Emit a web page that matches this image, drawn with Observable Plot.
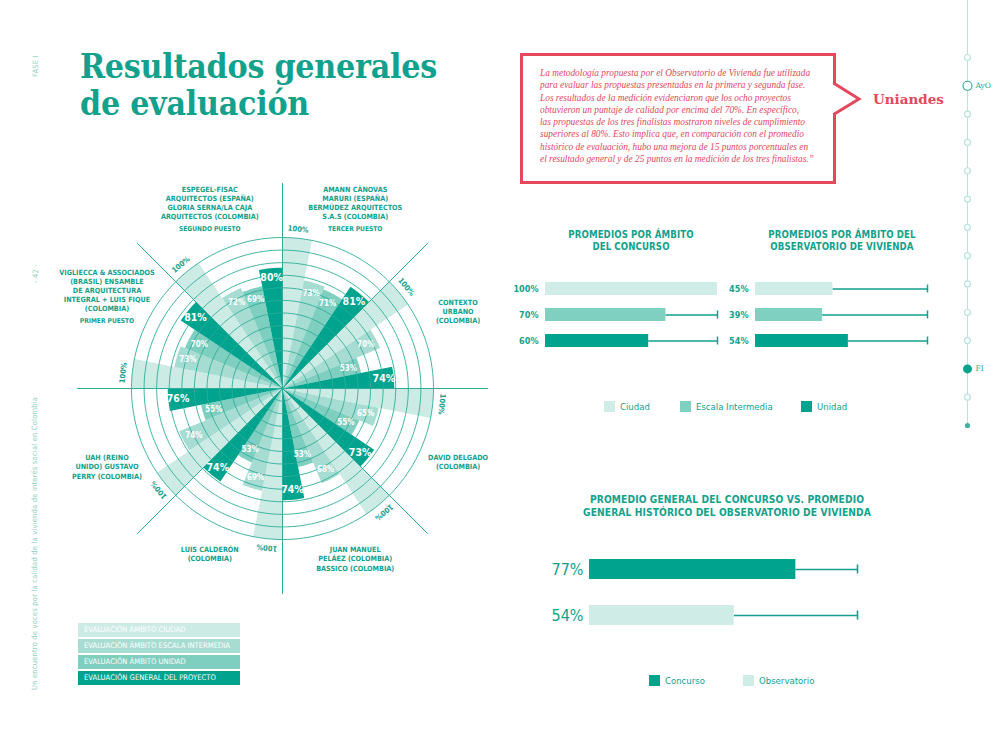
<!DOCTYPE html>
<html><head><meta charset="utf-8">
<script src="https://cdn.jsdelivr.net/npm/d3@7"></script>
<script src="https://cdn.jsdelivr.net/npm/@observablehq/plot@0.6"></script>
<style>
body{margin:0;background:#fff;}
#page{position:relative;width:1008px;height:735px;overflow:hidden;background:#fff;
  font-family:"Liberation Sans Narrow","DejaVu Sans Condensed","Roboto",sans-serif;color:#12a18c;}
#page > *{position:absolute;}
.side{color:#8fd0c4;font-size:7.5px;white-space:nowrap;transform:rotate(-90deg);transform-origin:0 0;letter-spacing:0.2px;}
.ctitle{font-weight:bold;font-size:9.6px;text-align:center;line-height:12px;white-space:nowrap;letter-spacing:0.1px;}
.leg{font-size:9.5px;white-space:nowrap;line-height:11px;display:flex;align-items:center;}
.sw{display:inline-block;width:11px;height:11px;margin-right:5px;}
.rleg{width:162px;height:14px;line-height:14px;color:#fff;font-size:7.6px;padding-left:6px;box-sizing:border-box;white-space:nowrap;overflow:hidden;}
</style></head>
<body><div id="page"></div>
<script>
// ---------------- DATA ----------------
const projects = [
  "AMANN CÀNOVAS\nMARURI (ESPAÑA)\nBERMÚDEZ ARQUITECTOS\nS.A.S (COLOMBIA)",
  "CONTEXTO\nURBANO\n(COLOMBIA)",
  "DAVID DELGADO\n(COLOMBIA)",
  "JUAN MANUEL\nPELÁEZ (COLOMBIA)\nBASSICO (COLOMBIA)",
  "LUIS CALDERÓN\n(COLOMBIA)",
  "UAH (REINO\nUNIDO) GUSTAVO\nPERRY (COLOMBIA)",
  "VIGLIECCA & ASSOCIADOS\n(BRASIL) ENSAMBLE\nDE ARQUITECTURA\nINTEGRAL + LUIS FIQUE\n(COLOMBIA)",
  "ESPEGEL-FISAC\nARQUITECTOS (ESPAÑA)\nGLORIA SERNA/LA CAJA\nARQUITECTOS (COLOMBIA)"
];
const puestos = ["TERCER PUESTO", "", "", "", "", "", "PRIMER PUESTO", "SEGUNDO PUESTO"];
const evalCiudad  = [100, 100, 100, 100, 100, 100, 100, 100];
const evalEscala  = [73, 70, 65, 68, 69, 74, 73, 72];
const evalUnidad  = [71, 53, 55, 53, 53, 55, 70, 69];
const evalGeneral = [81, 74, 73, 74, 74, 76, 81, 80];
const evalKinds = ["EVALUACIÓN ÁMBITO CIUDAD", "EVALUACIÓN ÁMBITO ESCALA INTERMEDIA",
                   "EVALUACIÓN ÁMBITO UNIDAD", "EVALUACIÓN GENERAL DEL PROYECTO"];
const ringCount = 12;

const ambitos = ["Ciudad", "Escala Intermedia", "Unidad"];
const concursoAmbito = [100, 70, 60];
const observatorioAmbito = [45, 39, 54];
const generalSeries = ["Concurso", "Observatorio"];
const generalValues = [77, 54];

const timelineNodes = [0,1,2,3,4,5,6,7,8,9,10,11,12,13];
const timelineLabels = ["", "AyO", "", "", "", "", "", "", "", "", "", "FI", "", ""];

const quoteLines = [
  "La metodología propuesta por el Observatorio de Vivienda fue utilizada",
  "para evaluar las propuestas presentadas en la primera y segunda fase.",
  "Los resultados de la medición evidenciaron que los ocho proyectos",
  "obtuvieron un puntaje de calidad por encima del 70%. En específico,",
  "las propuestas de los tres finalistas mostraron niveles de cumplimiento",
  "superiores al 80%. Esto implica que, en comparación con el promedio",
  "histórico de evaluación, hubo una mejora de 15 puntos porcentuales en",
  "el resultado general y de 25 puntos en la medición de los tres finalistas.”"
];

// ---------------- STYLE ----------------
const teal = "#12a18c";
const wedgeColors = ["#cdebe5", "#a7dcd2", "#7ecfc0", "#00a48e"];
const ambitoColors = ["#d0ece6", "#80d0c1", "#00a48e"];
const generalColors = ["#00a48e", "#d0ece6"];
const red = "#e3485c";
const FONT = '"Liberation Sans Narrow","DejaVu Sans Condensed",sans-serif';

const page = document.getElementById("page");
function add(html, left, top, cls, extra) {
  const d = document.createElement("div");
  if (cls) d.className = cls;
  d.innerHTML = html;
  d.style.left = left + "px"; d.style.top = top + "px";
  if (extra) Object.assign(d.style, extra);
  page.appendChild(d);
  return d;
}

// ---------------- TITLE ----------------
const title = add('<div id="t1" style="display:inline-block">Resultados generales</div><br><div style="display:inline-block">de evaluación</div>',
  80, 48, "", {fontFamily:'"DejaVu Serif",serif', fontWeight:"bold", fontSize:"34px", lineHeight:"37px",
  color:teal, whiteSpace:"nowrap", transformOrigin:"0 0", letterSpacing:"-0.3px"});

// side texts
add("FASE I", 31, 77, "side");
add("- 42 -", 31, 283, "side");
add("Un encuentro de voces por la calidad de la vivienda de interés social en Colombia", 30, 690, "side");

// ---------------- RADIAL CHART ----------------
const PX = 1.51;              // pixels per percentage point
const RW = 445, RH = 425, CX = 232, CY = 218;
const deg = Math.PI / 180;
const pol = (r, a) => [r * Math.sin(a * deg), r * Math.cos(a * deg)];
const series = [evalCiudad, evalEscala, evalUnidad, evalGeneral];

const wedgePts = [[], [], [], []];
const outerLabels = [], innerSmall = [], innerBig = [];
projects.forEach((p, i) => {
  series.forEach((arr, j) => {
    const v = arr[i];
    const a0 = 45 * i + 11.25 * j, a1 = a0 + 11.25, am = (a0 + a1) / 2;
    const id = i + "-" + j;
    wedgePts[j].push({id, x: 0, y: 0});
    for (let k = 0; k <= 8; k++) {
      const [x, y] = pol(v, a0 + (a1 - a0) * k / 8);
      wedgePts[j].push({id, x, y});
    }
    if (j === 0) {
      const [x, y] = pol(v + 6, am);
      outerLabels.push({x, y, t: v + "%", rot: am});
    } else if (j === 3) {
      const [x, y] = pol(v - 6.5, am);
      innerBig.push({x, y, t: v + "%"});
    } else {
      const [x, y] = pol(v - 7.5, am);
      innerSmall.push({x, y, t: v + "%"});
    }
  });
});
const ringPts = [];
for (let k = 1; k <= ringCount; k++) {
  const r = 100 * k / ringCount;
  for (let a = 0; a <= 360; a += 2) { const [x, y] = pol(r, a); ringPts.push({k, x, y}); }
}
const axisLines = [0, 45, 90, 135].map(a => {
  const [x2, y2] = pol(136, a), [x1, y1] = pol(-136, a);
  return {x1, y1, x2, y2};
});
// label ring: slightly elliptical so that blocks clear the chart
const LRX = 190 / PX, LRY = 170 / PX;
const nameUpper = [], nameLower = [], puestoData = [];
projects.forEach((name, i) => {
  const a = 45 * i + 22.5;
  const x = LRX * Math.sin(a * deg), y = LRY * Math.cos(a * deg);
  if (y > 0) {
    const shift = puestos[i] ? 12 / PX : 0;
    nameUpper.push({x, y: y + shift, name});
    if (puestos[i]) puestoData.push({x, y, t: puestos[i]});
  } else {
    nameLower.push({x, y, name});
  }
});

const radial = Plot.plot({
  width: RW, height: RH, margin: 0,
  x: {domain: [-CX / PX, (RW - CX) / PX], axis: null},
  y: {domain: [-(RH - CY) / PX, CY / PX], axis: null},
  style: {background: "transparent", fontFamily: FONT, overflow: "hidden"},
  marks: [
    ...wedgePts.map((pts, j) => Plot.line(pts, {x: "x", y: "y", z: "id", fill: wedgeColors[j], stroke: "none", curve: "linear"})),
    Plot.line(ringPts, {x: "x", y: "y", z: "k", stroke: "#2cad99", strokeWidth: 0.9}),
    Plot.link(axisLines, {x1: "x1", y1: "y1", x2: "x2", y2: "y2", stroke: "#2cad99", strokeWidth: 1}),
    Plot.text(outerLabels, {x: "x", y: "y", text: "t", rotate: "rot", fill: teal, fontSize: 7.5, fontWeight: "bold"}),
    Plot.text(innerSmall, {x: "x", y: "y", text: "t", fill: "#ffffff", fontSize: 8, fontWeight: "bold"}),
    Plot.text(innerBig, {x: "x", y: "y", text: "t", fill: "#ffffff", fontSize: 10.5, fontWeight: "bold"}),
    Plot.text(nameUpper, {x: "x", y: "y", text: "name", fill: teal, fontSize: 7.2, fontWeight: "bold", lineAnchor: "bottom", lineHeight: 1.28}),
    Plot.text(nameLower, {x: "x", y: "y", text: "name", fill: teal, fontSize: 7.2, fontWeight: "bold", lineAnchor: "top", lineHeight: 1.28}),
    Plot.text(puestoData, {x: "x", y: "y", text: "t", fill: teal, fontSize: 6.6, fontWeight: "bold", lineAnchor: "bottom"})
  ]
});
radial.style.position = "absolute"; radial.style.left = "50px"; radial.style.top = "170px";
page.appendChild(radial);

// radial legend
evalKinds.forEach((k, i) => {
  add(k, 78, 623 + 16 * i, "rleg", {background: wedgeColors[i]});
});

// ---------------- QUOTE ----------------
const box = add("", 520, 53, "", {width: "316px", height: "131px", border: "3px solid " + red, boxSizing: "border-box"});
const quote = add(quoteLines.map(l => '<div class="ql" style="white-space:nowrap">' + l + '</div>').join(""), 540, 67, "",
  {fontFamily: '"Liberation Serif","DejaVu Serif",serif', fontStyle: "italic", fontSize: "10.4px", lineHeight: "12.3px", color: red});
add('<svg width="40" height="50" style="overflow:visible"><rect x="2" y="10" width="7" height="28" fill="#fff"/><polyline points="5.5,8 31,24 5.5,39.5" fill="none" stroke="' + red + '" stroke-width="3" stroke-linejoin="miter"/></svg>', 828, 75, "");
add("Uniandes", 873, 91, "", {fontFamily: '"DejaVu Serif",serif', fontWeight: "bold", fontSize: "13.5px", color: red});

// ---------------- AMBITO CHARTS ----------------
function ambitoChart(values) {
  const data = ambitos.map((k, i) => ({k, v: values[i]}));
  const open = data.filter(d => d.v < 100);
  return Plot.plot({
    width: 230, height: 88, marginLeft: 45, marginRight: 13, marginTop: 5, marginBottom: 5,
    x: {domain: [0, 100], axis: null},
    y: {domain: ambitos, axis: null, paddingInner: 0.5, paddingOuter: 0.25},
    color: {domain: ambitos, range: ambitoColors},
    style: {background: "transparent", fontFamily: FONT},
    marks: [
      Plot.ruleY(open, {y: "k", x1: "v", x2: 100, stroke: teal, strokeWidth: 1.3}),
      Plot.tickX(open, {y: "k", x: 100, stroke: teal, strokeWidth: 1.5, insetTop: 2.5, insetBottom: 2.5}),
      Plot.barX(data, {y: "k", x: "v", fill: "k"}),
      Plot.text(data, {y: "k", x: 0, text: d => d.v + "%", textAnchor: "end", dx: -7, fill: teal, fontSize: 9, fontWeight: "bold"})
    ]
  });
}
const c1 = ambitoChart(concursoAmbito);
c1.style.position = "absolute"; c1.style.left = "500px"; c1.style.top = "270px"; page.appendChild(c1);
const c2 = ambitoChart(observatorioAmbito);
c2.style.position = "absolute"; c2.style.left = "710px"; c2.style.top = "270px"; page.appendChild(c2);

add("PROMEDIOS POR ÁMBITO<br>DEL CONCURSO", 531, 229, "ctitle", {width: "200px"});
add("PROMEDIOS POR ÁMBITO DEL<br>OBSERVATORIO DE VIVIENDA", 742, 229, "ctitle", {width: "200px"});

const legX = [604, 680, 801];
ambitos.forEach((a, i) => {
  add('<span class="sw" style="background:' + ambitoColors[i] + '"></span>' + a, legX[i], 401, "leg");
});

// ---------------- GENERAL CHART ----------------
{
  const data = generalSeries.map((k, i) => ({k, v: generalValues[i]}));
  const c3 = Plot.plot({
    width: 330, height: 124, marginLeft: 49, marginRight: 13, marginTop: 4.5, marginBottom: 5.5,
    x: {domain: [0, 100], axis: null},
    y: {domain: generalSeries, axis: null, paddingInner: 0.574, paddingOuter: 0.5},
    color: {domain: generalSeries, range: generalColors},
    style: {background: "transparent", fontFamily: FONT},
    marks: [
      Plot.ruleY(data, {y: "k", x1: "v", x2: 100, stroke: teal, strokeWidth: 1.4}),
      Plot.tickX(data, {y: "k", x: 100, stroke: teal, strokeWidth: 1.6, insetTop: 5.5, insetBottom: 5.5}),
      Plot.barX(data, {y: "k", x: "v", fill: "k"}),
      Plot.text(data, {y: "k", x: 0, text: d => d.v + "%", textAnchor: "end", dx: -6, fill: teal, fontSize: 16})
    ]
  });
  c3.style.position = "absolute"; c3.style.left = "540px"; c3.style.top = "530px"; page.appendChild(c3);
}
add("PROMEDIO GENERAL DEL CONCURSO VS. PROMEDIO<br>GENERAL HISTÓRICO DEL OBSERVATORIO DE VIVIENDA", 577, 493, "ctitle", {width: "300px", fontSize: "10.2px", lineHeight: "13px"});
const leg3X = [649, 743];
generalSeries.forEach((a, i) => {
  add('<span class="sw" style="background:' + generalColors[i] + '"></span>' + a, leg3X[i], 675, "leg");
});

// ---------------- TIMELINE ----------------
{
  const hollow = timelineNodes.filter(n => n !== 1 && n !== 11 && n !== 13);
  const tl = Plot.plot({
    width: 58, height: 426, margin: 0,
    x: {domain: [0, 1], range: [17, 57], axis: null},
    y: {domain: [0, 13], range: [57, 425], axis: null},
    style: {background: "transparent", overflow: "visible"},
    marks: [
      Plot.ruleX([0], {stroke: "#b9e3dc", strokeWidth: 1}),
      Plot.dot(hollow, {x: 0, y: d => d, r: 3, fill: "#fff", stroke: "#b9e3dc", strokeWidth: 1.2}),
      Plot.dot([1], {x: 0, y: d => d, r: 4.5, fill: "#fff", stroke: "#2aa996", strokeWidth: 1.1}),
      Plot.dot([11], {x: 0, y: d => d, r: 4.5, fill: "#00a48e", stroke: "none"}),
      Plot.dot([13], {x: 0, y: d => d, r: 2.6, fill: "#3fb3a1", stroke: "none"}),
      Plot.text(timelineNodes.filter(n => timelineLabels[n]), {x: 0, y: d => d, text: d => timelineLabels[d], dx: 8, textAnchor: "start",
        fill: "#2aa996", fontSize: 7.5, fontFamily: '"DejaVu Serif",serif', letterSpacing: "0.5px"})
    ]
  });
  tl.style.position = "absolute"; tl.style.left = "950px"; tl.style.top = "0px"; page.appendChild(tl);
}

// ---------------- FITTING ----------------
{
  const w = document.getElementById("t1").getBoundingClientRect().width;
  title.style.transform = "scaleX(" + (357 / w) + ")";
  const first = quote.querySelector(".ql");
  const qw = first.getBoundingClientRect().width;
  quote.style.fontSize = (10.4 * 274 / qw) + "px";
}
</script>
</body></html>
